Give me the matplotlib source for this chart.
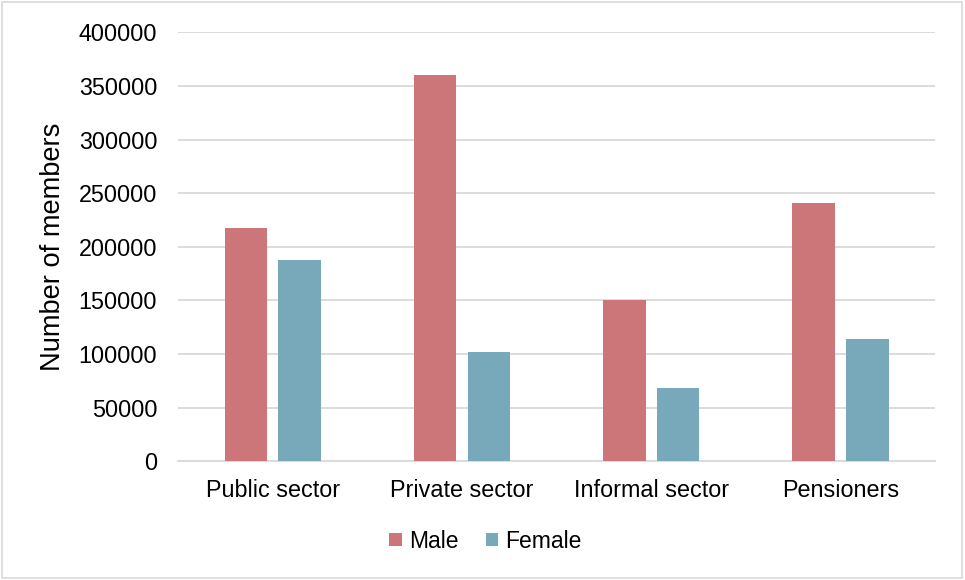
import numpy as np
import matplotlib.pyplot as plt
from matplotlib.patches import Rectangle

plt.rcParams['font.family'] = ['Liberation Sans', 'DejaVu Sans']

categories = ['Public sector', 'Private sector', 'Informal sector', 'Pensioners']
male = [218000, 360000, 150500, 241000]
female = [188000, 101500, 68300, 114500]

MALE_COLOR = '#CC7679'
FEMALE_COLOR = '#77A9BA'

fig = plt.figure(figsize=(9.65, 5.8), dpi=100)
ax = fig.add_axes([0.1845, 0.2047, 0.7845, 0.7393])

x = np.arange(len(categories))
width = 0.224
offset = 0.142
ax.bar(x - offset, male, width, color=MALE_COLOR, label='Male', zorder=3)
ax.bar(x + offset, female, width, color=FEMALE_COLOR, label='Female', zorder=3)

ax.set_xlim(-0.5, len(categories) - 0.5)
ax.set_ylim(0, 400000)
ax.set_yticks(np.arange(0, 400001, 50000))
ax.yaxis.grid(True, color='#D9D9D9', linewidth=1.3, zorder=0)
ax.set_axisbelow(True)
ax.set_xticks(x)
ax.set_xticklabels(categories, fontsize=16.8)
ax.tick_params(axis='y', labelsize=16.8, length=0, pad=15)
ax.tick_params(axis='x', length=0, pad=13)
for s in ['top', 'right', 'left']:
    ax.spines[s].set_visible(False)
ax.spines['bottom'].set_color('#D9D9D9')
ax.spines['bottom'].set_linewidth(1.3)

ax.set_ylabel('Number of members', fontsize=19.6, labelpad=9)

fig.legend(loc='center', bbox_to_anchor=(0.503, 0.067), ncol=2, frameon=False,
           fontsize=16.5, handlelength=0.55, handleheight=0.55, handletextpad=0.3,
           columnspacing=1.2)

# thin border around the whole figure
fig.patches.append(Rectangle((0.002, 0.003), 0.995, 0.994, transform=fig.transFigure,
                             fill=False, edgecolor='#D9D9D9', linewidth=1.2))

fig.savefig('out.png', dpi=100)
